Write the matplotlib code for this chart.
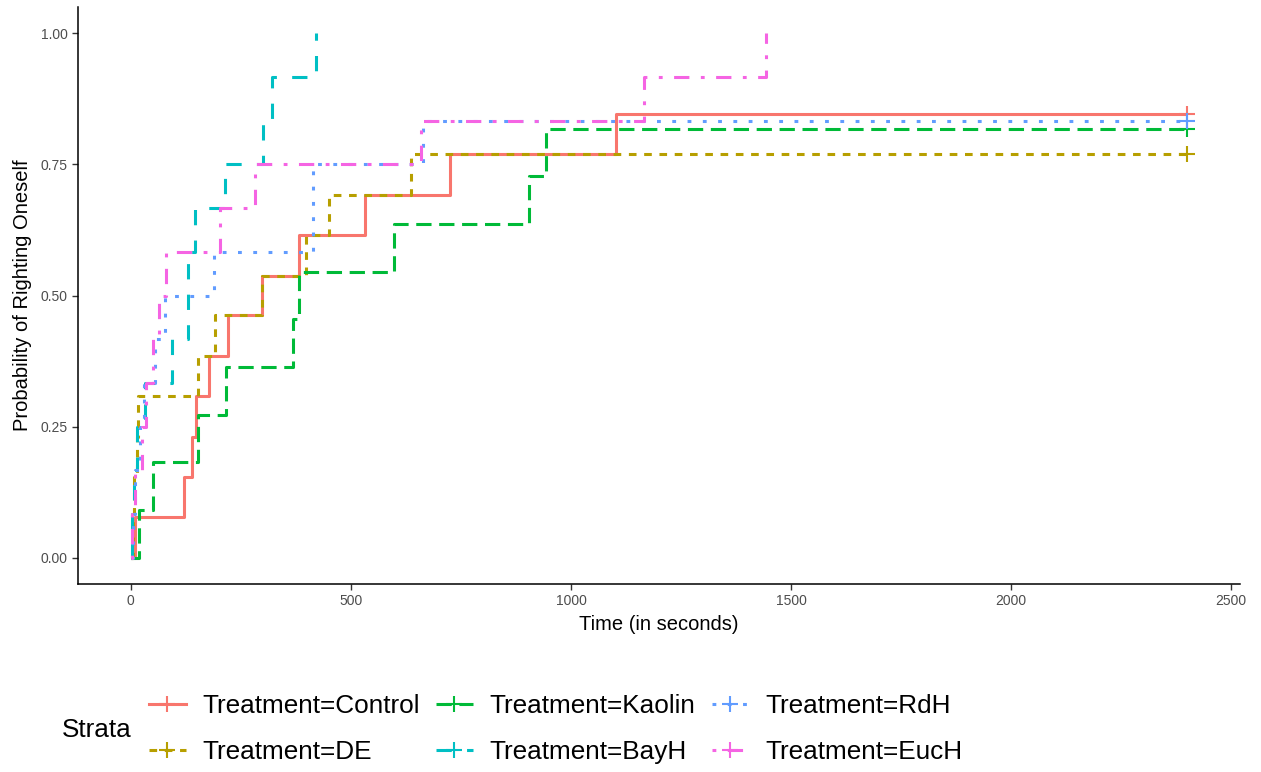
import matplotlib
matplotlib.use("Agg")
import matplotlib.pyplot as plt
from matplotlib.lines import Line2D

plt.rcParams['font.family'] = ['Liberation Sans', 'DejaVu Sans']

# ---- data ----
groups = ["Treatment=Control", "Treatment=DE", "Treatment=Kaolin",
          "Treatment=BayH", "Treatment=RdH", "Treatment=EucH"]
colors = ["#F8766D", "#B79F00", "#00BA38", "#00BFC4", "#619CFF", "#F564E3"]

control_t = [0, 10, 121, 140, 147, 178, 220, 299, 382, 531, 725, 1102, 2400]
control_p = [0, 0.077, 0.154, 0.231, 0.308, 0.385, 0.462, 0.538, 0.615, 0.692, 0.769, 0.846, 0.846]

de_t = [0, 4, 8, 13, 17, 152, 191, 298, 397, 451, 637, 2400]
de_p = [0, 0.077, 0.154, 0.231, 0.308, 0.385, 0.462, 0.538, 0.615, 0.692, 0.769, 0.769]

kaolin_t = [0, 19, 51, 153, 216, 368, 381, 597, 905, 944, 2400]
kaolin_p = [0, 0.091, 0.182, 0.273, 0.364, 0.455, 0.545, 0.636, 0.727, 0.818, 0.818]

bayh_t = [0, 3, 8, 14, 32, 93, 131, 146, 213, 300, 320, 420]
bayh_p = [0, 0.083, 0.167, 0.250, 0.333, 0.417, 0.583, 0.667, 0.750, 0.833, 0.917, 1.0]

rdh_t = [0, 5, 10, 20, 30, 55, 78, 188, 413, 664, 2400]
rdh_p = [0, 0.083, 0.167, 0.250, 0.333, 0.417, 0.500, 0.583, 0.750, 0.833, 0.833]

euch_t = [0, 3, 10, 25, 35, 50, 65, 80, 203, 283, 660, 1167, 1444]
euch_p = [0, 0.083, 0.167, 0.250, 0.333, 0.417, 0.500, 0.583, 0.667, 0.750, 0.833, 0.917, 1.0]

# censored observations (time, probability)
censor_t = [2400, 2400, 2400, None, 2400, None]
censor_p = [0.846, 0.769, 0.818, None, 0.833, None]

x_ticks = [0, 500, 1000, 1500, 2000, 2500]
y_ticks = [0.00, 0.25, 0.50, 0.75, 1.00]
y_tick_labels = ["0.00", "0.25", "0.50", "0.75", "1.00"]

series_t = [control_t, de_t, kaolin_t, bayh_t, rdh_t, euch_t]
series_p = [control_p, de_p, kaolin_p, bayh_p, rdh_p, euch_p]

# ggplot linetypes: solid, 22, 42, 44, 13, 1343
k = 1.25
dashes = [None, (2*k, 2*k), (4*k, 2*k), (4*k, 4*k), (1*k, 3*k), (1*k, 3*k, 4*k, 3*k)]

fig = plt.figure(figsize=(12.61, 7.72), dpi=100)
ax = fig.add_axes([78/1261, 1 - 584/772, (1240-78)/1261, (584-7)/772])

lw = 2.2
for t, p, c, d in zip(series_t, series_p, colors, dashes):
    ln, = ax.step(t, p, where='post', color=c, lw=lw, solid_capstyle='butt')
    if d is not None:
        ln.set_dashes(d)
        ln.set_dash_capstyle('butt')

for ct, cp, c in zip(censor_t, censor_p, colors):
    if ct is not None:
        ax.plot([ct], [cp], marker='+', color=c, markersize=12, mew=1.5, ls='none')

ax.set_xlim(-120, 2520)
ax.set_ylim(-0.05, 1.05)
ax.set_xticks(x_ticks)
ax.set_yticks(y_ticks)
ax.set_yticklabels(y_tick_labels)
for s in ['top', 'right']:
    ax.spines[s].set_visible(False)
for s in ['left', 'bottom']:
    ax.spines[s].set_linewidth(1.1)
    ax.spines[s].set_color('black')
ax.tick_params(axis='both', colors='#333333', labelcolor='#4D4D4D', labelsize=10,
               length=4, width=1.0)
ax.set_xlabel("Time (in seconds)", fontsize=14.5, color='black', labelpad=5)
ax.set_ylabel("Probability of Righting Oneself", fontsize=14.5, color='black', labelpad=6)

handles = []
for c, d in zip(colors, dashes):
    h = Line2D([0], [0], color=c, lw=lw, marker='+', markersize=12, mew=1.5)
    if d is not None:
        h.set_dashes(d)
    handles.append(h)

leg = fig.legend(handles, groups, ncol=3, loc='center left',
                 bbox_to_anchor=(149/1261, 1 - 729/772), frameon=False,
                 fontsize=18.8, handlelength=1.4, handletextpad=0.65,
                 columnspacing=0.62, labelspacing=0.87, borderpad=0, borderaxespad=0)
fig.text(62/1261, 1 - 730/772, "Strata", fontsize=18.8, ha='left', va='center')

fig.savefig("out.png", dpi=100)
